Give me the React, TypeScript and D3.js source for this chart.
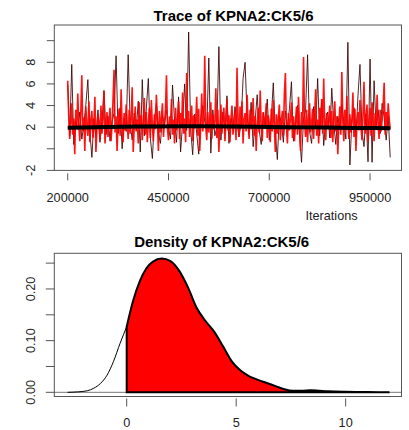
import React from "react";
import * as d3 from "d3";

// ---------- DATA ----------
const iterStart = 200000;
const blackStep = 5000;
const redStep = 2500;
const chainBlack = [
  5.9, 1.2, 7.8, 0.4, 2.6, 1.8, 3.4, 0.9, 2.2, 4.1,
  6.4, 1.5, -0.8, 2.8, 1.1, 3.6, 0.6, 2.4, 5.4, 1.3,
  3.0, 0.7, 2.5, 3.3, 8.6, 1.4, 3.8, 0.0, 2.9, 1.6,
  8.7, 2.3, 0.8, 3.3, 1.7, 4.4, -0.3, 6.4, 1.2, 3.7,
  6.5, 1.0, -0.9, 2.7, 4.2, 1.5, 0.5, 3.1, 2.2, 3.6,
  1.9, 0.9, 5.9, 2.6, 0.6, 4.8, -0.3, 2.4, 6.0, 1.7,
  10.8, 1.8, -0.55, 3.2, 1.4, -0.5, 2.9, 4.0, 2.5, 1.7,
  8.4, -0.4, 3.6, 1.2, 2.0, 9.45, 0.8, 3.4, 1.6, 4.9,
  0.5, 2.8, 1.9, 3.9, 2.4, 1.1, 2.3, 6.5, 8.0, 3.0,
  1.4, 4.3, 0.2, 2.6, 5.0, 1.7, 0.4, 3.3, 2.1, 4.6,
  0.8, 2.9, 6.1, 1.5, -1.0, 3.1, 2.4, 0.6, 3.5, 1.9,
  3.7, 6.2, 0.7, 2.2, 4.0, 1.3, -1.25, 2.8, 3.5, 8.7,
  1.6, 0.5, 3.9, 2.0, 6.5, 1.2, 4.4, 0.3, 2.6, 3.4,
  1.0, 5.6, 2.3, 0.4, 3.0, 1.8, 4.1, 2.5, 0.9, 9.85,
  -1.5, 2.7, 3.8, 1.1, 4.9, 7.8, 1.6, 0.2, 3.2, -1.2,
  8.3, -1.25, 6.3, 2.0, 3.6, 1.4, 4.2, 2.9, 0.8, 3.0, -0.8,
];
const chainRed = [
  6.3, 3.1, 0.9, 2.4, 4.2, 1.3, 2.8, -0.5, 3.6, 1.9, 5.1, 2.2, 0.7, 3.3, 6.8, 1.6, 2.9, -0.2, 3.9, 2.1,
  1.2, 4.4, 0.6, 2.7, 3.5, 1.0, 2.3, 4.8, -0.3, 1.8, 3.2, 2.5, 0.8, 4.0, 1.4, 2.9, 5.3, 0.5, 2.0, 3.4,
  1.1, 2.6, 3.8, 0.7, 2.2, 4.6, 7.3, 1.5, 3.0, -0.2, 2.4, 3.7, 1.2, 5.5, 2.1, 0.6, 3.3, 1.7, 4.1, 2.5,
  0.9, 3.6, 1.4, 2.8, 5.7, -0.3, 2.0, 3.9, 1.6, 2.7, 0.5, 4.3, 1.9, 3.1, 0.8, 2.6, 4.7, 1.3, 3.4, 0.6,
  2.3, 3.8, 1.0, 4.5, 2.1, 0.7, 3.2, 1.8, 5.0, 2.6, -0.2, 3.5, 1.5, 2.9, 4.2, 1.1, 2.4, 3.6, 6.8, 1.9,
  0.8, 3.0, 2.2, 4.6, 1.3, 2.7, 0.5, 3.8, 1.7, 2.5, 4.4, 0.9, 3.3, 2.0, 5.2, 1.4, 2.8, 0.6, 7.0, 2.3,
  3.5, 1.1, 2.6, 4.0, 0.7, 3.1, 1.9, 2.4, 4.8, 1.2, 3.7, -0.2, 2.2, 5.1, 1.6, 3.0, 8.6, 2.0, 0.8, 3.4,
  1.5, 2.7, 4.3, 0.9, 3.2, 1.8, 2.5, 5.6, 1.0, 3.6, -0.3, 2.1, 4.1, 1.4, 2.9, 3.8, 0.7, 2.4, 4.6, 1.7,
  3.1, 0.6, 2.8, 4.0, 1.3, 2.2, 3.5, 0.8, 7.5, 2.6, 1.1, 3.9, 2.0, 4.4, 0.5, 2.7, 3.3, 1.6, 5.0, 2.3,
  0.9, 3.6, 1.8, 2.5, 4.7, 1.2, 3.0, -0.2, 2.3, 3.8, 1.5, 5.4, 2.1, 0.7, 3.4, 1.9, 2.8, 4.2, 1.0, 3.1,
  2.4, 0.6, 3.7, 1.6, 4.5, 2.2, -0.3, 3.2, 1.4, 2.9, 4.1, 0.8, 2.6, 3.5, 1.2, 5.1, 7.0, 2.0, 0.5, 3.3,
  1.7, 2.8, 4.3, 1.0, 3.0, 0.7, 2.5, 3.9, 1.3, 4.8, 2.2, -0.2, 3.4, 1.8, 8.5, 2.6, 1.1, 3.6, 0.6, 2.9,
  4.2, 1.5, 2.3, 3.7, 0.9, 3.1, 5.5, 1.2, 2.7, 0.5, 3.8, 2.0, 4.6, 1.4, 6.5, 2.4, 0.8, 3.3, 1.9, 2.6,
  4.0, 1.0, 3.5, 0.6, 2.8, 4.4, 1.6, 3.0, -0.5, 2.2, 3.9, 1.3, 7.1, 2.5, 0.7, 3.6, 1.8, 4.9, 2.1, 0.9,
  3.2, 1.5, 2.6, 5.2, 1.1, 3.7, -0.2, 2.4, 3.4, 1.7, 4.5, 2.0, 0.8, 3.1, 6.2, 1.4, 2.9, 4.1, 0.6, 2.3,
  3.8, 1.2, 4.3, 2.5, 0.7, 3.3, 1.9, 5.0, 2.2, 0.9, 3.6, 1.6, 2.7, 4.0, 6.1, 1.3, 3.4, 2.0, 4.2, 2.8,
  1.8,
];
const smoothIter = [200000, 300000, 400000, 500000, 600000, 700000, 800000, 900000, 1000000];
const smoothVal = [1.95, 2.02, 2.06, 2.08, 2.06, 2.02, 1.98, 1.93, 1.9];

const traceXTicks = [200000, 450000, 700000, 950000];
const traceXLabels = ["200000", "450000", "700000", "950000"];
const traceYTicks = [-2, 0, 2, 4, 6, 8, 10];
const traceYLabels = ["-2", "", "2", "4", "6", "8", ""];

const densX = [-2.7, -2.2, -1.8, -1.5, -1.2, -0.9, -0.6, -0.3, 0, 0.3, 0.6, 0.9, 1.2, 1.6, 2.0, 2.4, 2.8, 3.2, 3.6, 4.0, 4.4, 4.8, 5.2, 5.6, 6.0, 6.4, 6.8, 7.2, 7.6, 8.0, 8.4, 8.8, 9.2, 10, 11, 12];
const densY = [0, 0.001, 0.003, 0.008, 0.017, 0.033, 0.06, 0.095, 0.127, 0.178, 0.215, 0.24, 0.253, 0.2588, 0.254, 0.235, 0.203, 0.163, 0.138, 0.117, 0.089, 0.06, 0.042, 0.031, 0.024, 0.018, 0.012, 0.006, 0.003, 0.003, 0.004, 0.003, 0.002, 0.001, 0.0005, 0];

const densXTicks = [0, 5, 10];
const densXLabels = ["0", "5", "10"];
const densYTicks = [0, 0.05, 0.1, 0.15, 0.2, 0.25];
const densYLabels = ["0.00", "", "0.10", "", "0.20", ""];

const FONT = "'Liberation Sans', Arial, Helvetica, sans-serif";

export default function App() {
  // --- trace panel scales
  const L = 54.3, R = 401.5;
  const tx = d3.scaleLinear().domain([166750, 1028000]).range([L, R]);
  const ty = d3.scaleLinear().domain([-2, 11.45]).range([170.4, 25]);
  const blackPts = chainBlack.map((v, i) => [iterStart + i * blackStep, v] as [number, number]);
  const redPts = chainRed.map((v, i) => [iterStart + i * redStep, v] as [number, number]);
  const line = d3.line<[number, number]>().x((d) => tx(d[0])).y((d) => ty(d[1]));
  const smoothLine = d3
    .line<number>()
    .x((_, i) => tx(smoothIter[i]))
    .y((d) => ty(d))
    .curve(d3.curveMonotoneX);

  // --- density panel scales
  const dx = d3.scaleLinear().domain([-3.306, 12.55]).range([L, R]);
  const dy = d3.scaleLinear().domain([-0.0081, 0.269]).range([396.5, 253.3]);
  const pts = densX.map((x, i) => [x, densY[i]] as [number, number]);
  const dline = d3.line<[number, number]>().x((d) => dx(d[0])).y((d) => dy(d[1])).curve(d3.curveMonotoneX);
  const right = pts.filter((p) => p[0] >= 0);
  const dArea = d3
    .area<[number, number]>()
    .x((d) => dx(d[0]))
    .y0(dy(0))
    .y1((d) => dy(d[1]))
    .curve(d3.curveMonotoneX);
  const polyOutline = dline(right) + `L${dx(12)},${dy(0)}L${dx(0)},${dy(0)}Z`;

  const axisCol = "#555";

  return (
    <svg
      width={409}
      height={430}
      style={{ position: "absolute", left: 0, top: 0, background: "#fff" }}
      fontFamily={FONT}
    >
      {/* ===== TRACE ===== */}
      <text x={233.5} y={20.5} textAnchor="middle" fontSize={15} fontWeight="bold">
        Trace of KPNA2:CK5/6
      </text>
      <defs>
        <clipPath id="clipT">
          <rect x={L} y={25} width={R - L} height={170.4 - 25} />
        </clipPath>
      </defs>
      <g clipPath="url(#clipT)">
        <path d={line(blackPts) || ""} fill="none" stroke="#3a0000" strokeWidth={1} strokeOpacity={0.85} />
        <path d={line(redPts) || ""} fill="none" stroke="#ff0000" strokeWidth={1.6} strokeOpacity={0.92} />
        <path d={smoothLine(smoothVal) || ""} fill="none" stroke="#000" strokeWidth={4} />
      </g>
      <rect x={L} y={25} width={R - L} height={170.4 - 25} fill="none" stroke={axisCol} strokeWidth={1} />
      {traceYTicks.map((t, i) => (
        <g key={"ty" + i}>
          <line x1={L - 7.5} x2={L} y1={ty(t)} y2={ty(t)} stroke={axisCol} />
          {traceYLabels[i] && (
            <text
              transform={`translate(34.5,${ty(t)}) rotate(-90)`}
              textAnchor="middle"
              fontSize={12.7}
              fill="#222"
            >
              {traceYLabels[i]}
            </text>
          )}
        </g>
      ))}
      {traceXTicks.map((t, i) => (
        <g key={"tx" + i}>
          <line x1={tx(t)} x2={tx(t)} y1={173.3} y2={180.3} stroke={axisCol} />
          <text x={tx(t)} y={202.3} textAnchor="middle" fontSize={12.7} fill="#222">
            {traceXLabels[i]}
          </text>
        </g>
      ))}
      <text x={331.5} y={219.5} textAnchor="middle" fontSize={12.7} fill="#222">
        Iterations
      </text>

      {/* ===== DENSITY ===== */}
      <text x={221.7} y={247.3} textAnchor="middle" fontSize={15} fontWeight="bold">
        Density of KPNA2:CK5/6
      </text>
      <line x1={L} x2={R} y1={dy(0)} y2={dy(0)} stroke="#777" strokeWidth={1} />
      <path d={dArea(right) || ""} fill="#ff0000" />
      <path d={dline(pts.filter((p) => p[0] <= 0)) || ""} fill="none" stroke="#000" strokeWidth={1} />
      <path d={polyOutline} fill="none" stroke="#000" strokeWidth={2} />
      <rect x={L} y={253.3} width={R - L} height={396.5 - 253.3} fill="none" stroke={axisCol} strokeWidth={1} />
      {densYTicks.map((t, i) => (
        <g key={"dy" + i}>
          <line x1={L - 8.5} x2={L} y1={dy(t)} y2={dy(t)} stroke={axisCol} />
          {densYLabels[i] && (
            <text
              transform={`translate(34.5,${dy(t)}) rotate(-90)`}
              textAnchor="middle"
              fontSize={12.7}
              fill="#222"
            >
              {densYLabels[i]}
            </text>
          )}
        </g>
      ))}
      {densXTicks.map((t, i) => (
        <g key={"dx" + i}>
          <line x1={dx(t)} x2={dx(t)} y1={398.5} y2={406.5} stroke={axisCol} />
          <text x={dx(t)} y={427} textAnchor="middle" fontSize={12.7} fill="#222">
            {densXLabels[i]}
          </text>
        </g>
      ))}
    </svg>
  );
}
